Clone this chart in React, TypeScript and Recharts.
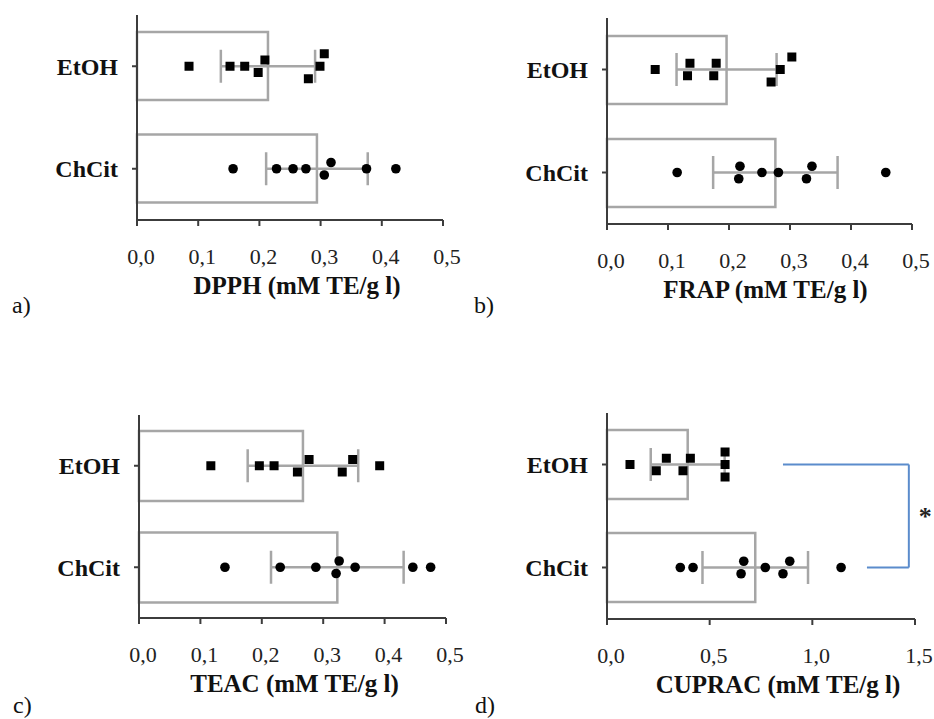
import React from "react";
import {
  ComposedChart,
  Bar,
  Scatter,
  ErrorBar,
  XAxis,
  YAxis,
  ReferenceLine,
  Label,
} from "recharts";

const GROUPS = ["EtOH", "ChCit"];

// values (mM TE/g l)
const dpphEtoh = [0.085, 0.152, 0.176, 0.198, 0.209, 0.28, 0.299, 0.306];
const dpphChcit = [0.157, 0.228, 0.255, 0.276, 0.306, 0.317, 0.375, 0.423];
const dpphMean = [0.214, 0.294];
const dpphSd = [0.077, 0.083];

const frapEtoh = [0.079, 0.132, 0.136, 0.175, 0.179, 0.269, 0.284, 0.303];
const frapChcit = [0.115, 0.216, 0.218, 0.254, 0.281, 0.327, 0.336, 0.457];
const frapMean = [0.196, 0.276];
const frapSd = [0.082, 0.102];

const teacEtoh = [0.117, 0.196, 0.22, 0.258, 0.277, 0.331, 0.348, 0.392];
const teacChcit = [0.14, 0.23, 0.288, 0.321, 0.326, 0.352, 0.446, 0.475];
const teacMean = [0.267, 0.323];
const teacSd = [0.09, 0.108];

const cupracEtoh = [0.112, 0.24, 0.289, 0.37, 0.406, 0.575, 0.575, 0.575];
const cupracChcit = [0.357, 0.419, 0.653, 0.666, 0.771, 0.857, 0.89, 1.14];
const cupracMean = [0.393, 0.722];
const cupracSd = [0.18, 0.257];

const ticksSmall = [0, 0.1, 0.2, 0.3, 0.4, 0.5];
const ticksLarge = [0, 0.5, 1.0, 1.5];

// significance bracket, panel d
const bracketTopStart = 0.857;
const bracketBottomStart = 1.266;
const bracketEnd = 1.47;

const SERIF = "'Liberation Serif', 'Times New Roman', serif";
const GRAY = "#a6a6a6";
const AXIS = "#3c3c3c";

type Pt = { group: string; value: number; lane: number };

// simple swarm: neighbours closer than `gap` are spread vertically
function swarm(group: string, values: number[], gap: number): Pt[] {
  const sorted = [...values].sort((a, b) => a - b);
  const out: Pt[] = [];
  let cluster: number[] = [];
  const flush = () => {
    cluster.forEach((v, i) =>
      out.push({ group, value: v, lane: i - (cluster.length - 1) / 2 })
    );
    cluster = [];
  };
  sorted.forEach((v) => {
    if (cluster.length && v - cluster[cluster.length - 1] > gap) flush();
    cluster.push(v);
  });
  flush();
  return out;
}

const fmt = (v: number) => v.toFixed(1).replace(".", ",");

interface PanelProps {
  left: number;
  top: number;
  marginTop: number;
  yWidth: number;
  plotWidth: number;
  plotHeight: number;
  barSize: number;
  max: number;
  ticks: number[];
  title: string;
  titleDx: number;
  etoh: number[];
  chcit: number[];
  mean: number[];
  sd: number[];
  bracket?: boolean;
}

const Marker = (props: any) => {
  const { cx, cy, payload } = props;
  if (cx == null || cy == null) return <g />;
  const y = cy - payload.lane * 12.5;
  if (payload.group === "EtOH") {
    return <rect x={cx - 4.5} y={y - 4.5} width={9} height={9} fill="#000" />;
  }
  return <circle cx={cx} cy={y} r={4.8} fill="#000" />;
};

const Panel: React.FC<PanelProps> = (p) => {
  const data = GROUPS.map((g, i) => ({ group: g, mean: p.mean[i], sd: p.sd[i] }));
  const gap = p.max * 0.039;
  const points = [...swarm("EtOH", p.etoh, gap), ...swarm("ChCit", p.chcit, gap)];
  const width = 467;
  const xHeight = 90;

  return (
    <div style={{ position: "absolute", left: p.left, top: p.top }}>
      <ComposedChart
        layout="vertical"
        width={width}
        height={p.marginTop + p.plotHeight + xHeight}
        data={data}
        margin={{ top: p.marginTop, right: width - p.yWidth - p.plotWidth, bottom: 0, left: 0 }}
        style={{ overflow: "visible" }}
      >
        <XAxis
          type="number"
          domain={[0, p.max]}
          ticks={p.ticks}
          tickFormatter={fmt}
          height={xHeight}
          axisLine={{ stroke: AXIS, strokeWidth: 2 }}
          tickLine={{ stroke: AXIS, strokeWidth: 2 }}
          tickSize={6}
          tickMargin={22}
          tick={{ fill: "#222", fontSize: 22, fontFamily: SERIF, dx: 4 }}
        >
          <Label
            value={p.title}
            position="insideBottom"
            offset={16}
            dx={p.titleDx}
            fill="#111"
            fontSize={25}
            fontWeight="bold"
            fontFamily={SERIF}
          />
        </XAxis>
        <YAxis
          type="category"
          dataKey="group"
          allowDuplicatedCategory={false}
          width={p.yWidth}
          axisLine={{ stroke: AXIS, strokeWidth: 2 }}
          tickLine={{ stroke: AXIS, strokeWidth: 2 }}
          tickSize={5}
          tickMargin={14}
          tick={{ fill: "#111", fontSize: 24, fontWeight: "bold", fontFamily: SERIF }}
        />
        <Bar
          dataKey="mean"
          barSize={p.barSize}
          fill="#fff"
          stroke={GRAY}
          strokeWidth={2.5}
          isAnimationActive={false}
        />
        <Scatter data={points} dataKey="value" shape={Marker} isAnimationActive={false} />
        <Scatter dataKey="mean" shape={() => <g />} isAnimationActive={false}>
          <ErrorBar dataKey="sd" direction="x" width={16.5} stroke={GRAY} strokeWidth={2.5} />
        </Scatter>
        {p.bracket && (
          <ReferenceLine
            segment={[
              { x: bracketTopStart, y: "EtOH" },
              { x: bracketEnd, y: "EtOH" },
            ]}
            stroke="#5b8ccc"
            strokeWidth={2}
          />
        )}
        {p.bracket && (
          <ReferenceLine
            segment={[
              { x: bracketEnd, y: "EtOH" },
              { x: bracketEnd, y: "ChCit" },
            ]}
            stroke="#5b8ccc"
            strokeWidth={2}
          >
            <Label
              value="*"
              position="right"
              offset={10}
              fill="#222"
              fontSize={26}
              fontWeight="bold"
              fontFamily={SERIF}
            />
          </ReferenceLine>
        )}
        {p.bracket && (
          <ReferenceLine
            segment={[
              { x: bracketBottomStart, y: "ChCit" },
              { x: bracketEnd, y: "ChCit" },
            ]}
            stroke="#5b8ccc"
            strokeWidth={2}
          />
        )}
      </ComposedChart>
    </div>
  );
};

export default function App() {
  return (
    <div
      style={{
        position: "absolute",
        left: 0,
        top: 0,
        width: 934,
        height: 719,
        background: "#fff",
        overflow: "hidden",
      }}
    >
      <Panel
        left={0}
        top={0}
        marginTop={15}
        yWidth={137}
        plotWidth={306}
        plotHeight={205}
        barSize={68}
        max={0.5}
        ticks={ticksSmall}
        title="DPPH (mM TE/g l)"
        titleDx={7}
        etoh={dpphEtoh}
        chcit={dpphChcit}
        mean={dpphMean}
        sd={dpphSd}
      />
      <Panel
        left={467}
        top={0}
        marginTop={18}
        yWidth={140}
        plotWidth={305}
        plotHeight={206}
        barSize={68}
        max={0.5}
        ticks={ticksSmall}
        title="FRAP (mM TE/g l)"
        titleDx={6}
        etoh={frapEtoh}
        chcit={frapChcit}
        mean={frapMean}
        sd={frapSd}
      />
      <Panel
        left={0}
        top={380}
        marginTop={35}
        yWidth={139}
        plotWidth={307}
        plotHeight={203}
        barSize={70}
        max={0.5}
        ticks={ticksSmall}
        title="TEAC (mM TE/g l)"
        titleDx={2}
        etoh={teacEtoh}
        chcit={teacChcit}
        mean={teacMean}
        sd={teacSd}
      />
      <Panel
        left={467}
        top={380}
        marginTop={33}
        yWidth={140}
        plotWidth={308}
        plotHeight={206}
        barSize={69}
        max={1.5}
        ticks={ticksLarge}
        title="CUPRAC (mM TE/g l)"
        titleDx={17}
        etoh={cupracEtoh}
        chcit={cupracChcit}
        mean={cupracMean}
        sd={cupracSd}
        bracket
      />
      <svg
        width={934}
        height={719}
        style={{ position: "absolute", left: 0, top: 0, pointerEvents: "none" }}
      >
        <g fontFamily={SERIF} fontSize={24} fill="#111">
          <text x={12} y={313}>a)</text>
          <text x={474} y={313}>b)</text>
          <text x={13} y={713}>c)</text>
          <text x={475} y={713}>d)</text>
        </g>
      </svg>
    </div>
  );
}
